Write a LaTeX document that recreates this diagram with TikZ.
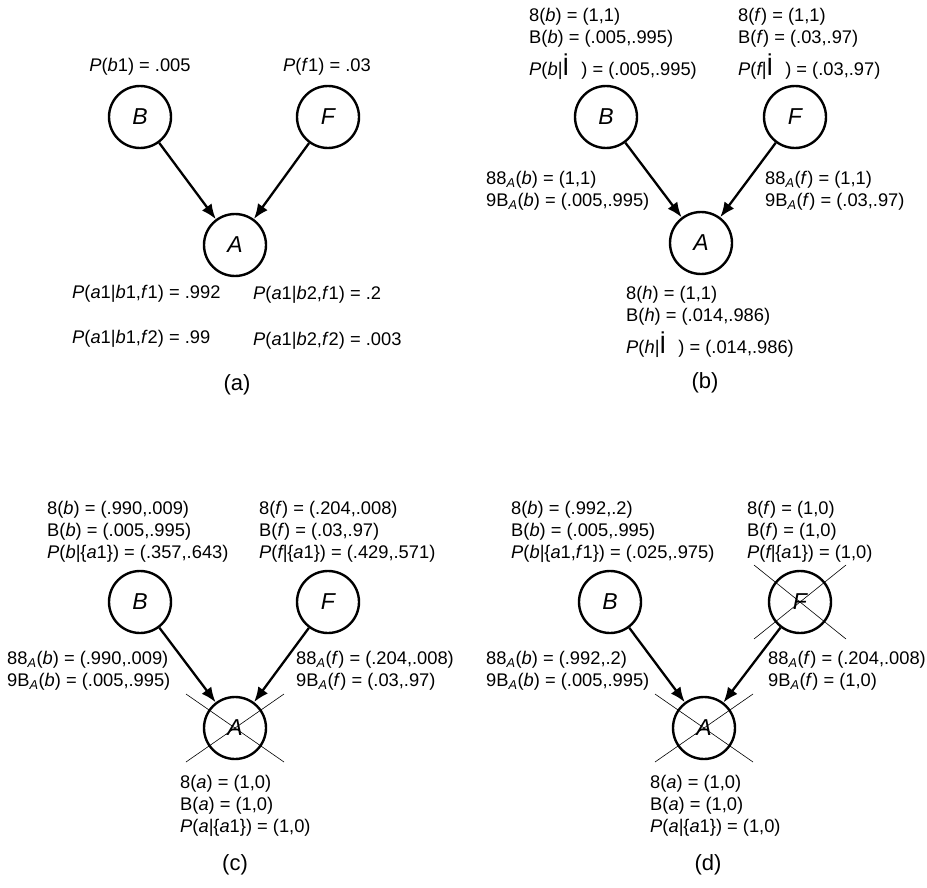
\documentclass[tikz,border=0pt]{standalone}
\usepackage{fontspec}
\setmainfont{Liberation Sans}
\usetikzlibrary{arrows.meta}
\newcommand{\emptyI}{{\fontsize{25}{25}\selectfont İ}\hspace{12pt}}

\begin{document}
\begin{tikzpicture}[x=1pt, y=-1pt,
  every node/.style={font=\fontsize{18.3}{22}\selectfont},
  var/.style={circle, draw, line width=2.4pt, minimum size=62pt, inner sep=0pt,
    font=\fontsize{23}{27}\selectfont\itshape},
  lbl/.style={anchor=north west, align=left, inner sep=0pt},
  cpt/.style={anchor=base west, inner sep=0pt},
  panelcap/.style={font=\fontsize{22}{26}\selectfont},
  link/.style={-{Latex[length=15pt,width=12pt]}, line width=2.3pt},
  cross/.style={line width=0.6pt}]
  \useasboundingbox (0,0) rectangle (927,888);

  % (a) priors and CPT
  \node[var] (Ba) at (140,117) {B};
  \node[var] (Fa) at (328,117) {F};
  \node[var] (Aa) at (235,245) {A};
  \draw[link] (Ba) -- (Aa);
  \draw[link] (Fa) -- (Aa);
  \node[anchor=base, inner sep=0pt] (pBa) at (140,71.5) {\textit{P}(\textit{b}1) = .005};
  \node[anchor=base, inner sep=0pt] (pFa) at (327,71.5) {\textit{P}(\textit{f}1) = .03};
  \node[cpt] (cpt11) at (72,298.5) {\textit{P}(\textit{a}1|\textit{b}1,\textit{f}1) = .992};
  \node[cpt] (cpt21) at (253,299.5) {\textit{P}(\textit{a}1|\textit{b}2,\textit{f}1) = .2};
  \node[cpt] (cpt12) at (72,343.5) {\textit{P}(\textit{a}1|\textit{b}1,\textit{f}2) = .99};
  \node[cpt] (cpt22) at (253,345.5) {\textit{P}(\textit{a}1|\textit{b}2,\textit{f}2) = .003};
  \node[panelcap] (capa) at (237,385) {(a)};

  % (b) no evidence
  \node[var] (Bb) at (606,117) {B};
  \node[var] (Fb) at (795,117) {F};
  \node[var] (Ab) at (701,243) {A};
  \draw[link] (Bb) -- (Ab);
  \draw[link] (Fb) -- (Ab);
  \node[lbl] (lBb) at (529,8) {8(\textit{b}) = (1,1)\\ B(\textit{b}) = (.005,.995)\\[6pt]
    \textit{P}(\textit{b|}\emptyI) = (.005,.995)};
  \node[lbl] (lFb) at (738,8) {8(\textit{f}) = (1,1)\\ B(\textit{f}) = (.03,.97)\\[6pt]
    \textit{P}(\textit{f|}\emptyI) = (.03,.97)};
  \node[lbl] (mBb) at (486,171) {88\textsubscript{\textit{A}}(\textit{b}) = (1,1)\\
    9B\textsubscript{\textit{A}}(\textit{b}) = (.005,.995)};
  \node[lbl] (mFb) at (765,171) {88\textsubscript{\textit{A}}(\textit{f}) = (1,1)\\
    9B\textsubscript{\textit{A}}(\textit{f}) = (.03,.97)};
  \node[lbl] (lAb) at (626,286) {8(\textit{h}) = (1,1)\\ B(\textit{h}) = (.014,.986)\\[6pt]
    \textit{P}(\textit{h|}\emptyI) = (.014,.986)};
  \node[panelcap] (capb) at (705,383) {(b)};

  % (c) evidence a1
  \node[var] (Bc) at (140,602) {B};
  \node[var] (Fc) at (328,602) {F};
  \node[var] (Ac) at (235,728) {A};
  \draw[link] (Bc) -- (Ac);
  \draw[link] (Fc) -- (Ac);
  \draw[cross] ([shift={(-49,-34)}]Ac.center) -- ([shift={(49,34)}]Ac.center);
  \draw[cross] ([shift={(-49,34)}]Ac.center) -- ([shift={(49,-34)}]Ac.center);
  \node[lbl] (lBc) at (47,501) {8(\textit{b}) = (.990,.009)\\ B(\textit{b}) = (.005,.995)\\
    \textit{P}(\textit{b|}\{\textit{a}1\}) = (.357,.643)};
  \node[lbl] (lFc) at (259,501) {8(\textit{f}) = (.204,.008)\\ B(\textit{f}) = (.03,.97)\\
    \textit{P}(\textit{f|}\{\textit{a}1\}) = (.429,.571)};
  \node[lbl] (mBc) at (7,651) {88\textsubscript{\textit{A}}(\textit{b}) = (.990,.009)\\
    9B\textsubscript{\textit{A}}(\textit{b}) = (.005,.995)};
  \node[lbl] (mFc) at (296,651) {88\textsubscript{\textit{A}}(\textit{f}) = (.204,.008)\\
    9B\textsubscript{\textit{A}}(\textit{f}) = (.03,.97)};
  \node[lbl] (lAc) at (180,775) {8(\textit{a}) = (1,0)\\ B(\textit{a}) = (1,0)\\
    \textit{P}(\textit{a|}\{\textit{a}1\}) = (1,0)};
  \node[panelcap] (capc) at (235,865) {(c)};

  % (d) evidence a1 and f1
  \node[var] (Bd) at (610,602) {B};
  \node[var] (Fd) at (800,602) {F};
  \node[var] (Ad) at (704,728) {A};
  \draw[link] (Bd) -- (Ad);
  \draw[link] (Fd) -- (Ad);
  \draw[cross] ([shift={(-46,-37)}]Fd.center) -- ([shift={(46,37)}]Fd.center);
  \draw[cross] ([shift={(-46,37)}]Fd.center) -- ([shift={(46,-37)}]Fd.center);
  \draw[cross] ([shift={(-49,-34)}]Ad.center) -- ([shift={(49,34)}]Ad.center);
  \draw[cross] ([shift={(-49,34)}]Ad.center) -- ([shift={(49,-34)}]Ad.center);
  \node[lbl] (lBd) at (511,501) {8(\textit{b}) = (.992,.2)\\ B(\textit{b}) = (.005,.995)\\
    \textit{P}(\textit{b|}\{\textit{a}1,\textit{f}1\}) = (.025,.975)};
  \node[lbl] (lFd) at (747,501) {8(\textit{f}) = (1,0)\\ B(\textit{f}) = (1,0)\\
    \textit{P}(\textit{f|}\{\textit{a}1\}) = (1,0)};
  \node[lbl] (mBd) at (486,651) {88\textsubscript{\textit{A}}(\textit{b}) = (.992,.2)\\
    9B\textsubscript{\textit{A}}(\textit{b}) = (.005,.995)};
  \node[lbl] (mFd) at (768,651) {88\textsubscript{\textit{A}}(\textit{f}) = (.204,.008)\\
    9B\textsubscript{\textit{A}}(\textit{f}) = (1,0)};
  \node[lbl] (lAd) at (650,775) {8(\textit{a}) = (1,0)\\ B(\textit{a}) = (1,0)\\
    \textit{P}(\textit{a|}\{\textit{a}1\}) = (1,0)};
  \node[panelcap] (capd) at (708,865) {(d)};
\end{tikzpicture}
\end{document}
